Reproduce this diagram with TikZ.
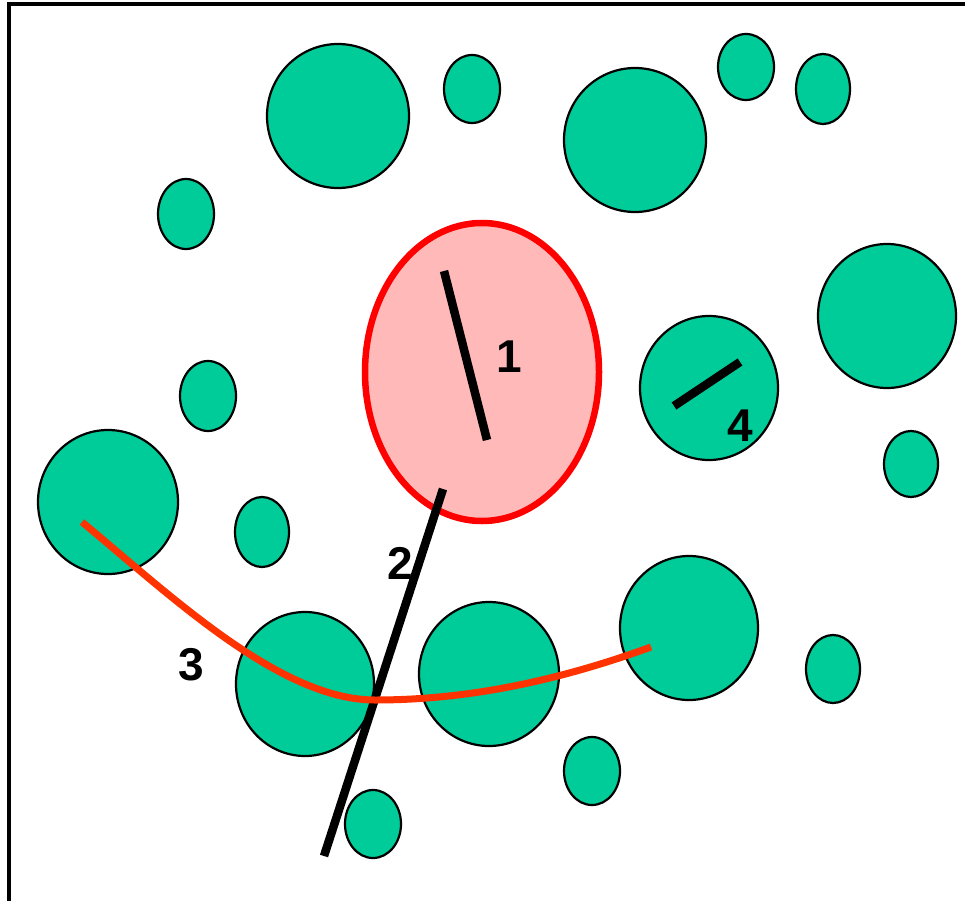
\documentclass[tikz,border=0pt]{standalone}
\usepackage{fontspec}
\setmainfont{Liberation Sans}
\definecolor{grain}{RGB}{0,204,153}
\definecolor{pinkfill}{RGB}{255,185,185}
\definecolor{pathred}{RGB}{255,51,0}
\begin{document}
\begin{tikzpicture}[x=1pt,y=-1pt,
  grainshape/.style={draw=black,line width=2.2pt,fill=grain},
  blackline/.style={draw=black,line width=8.5pt},
  lbl/.style={font=\fontsize{46}{46}\selectfont\bfseries,inner sep=0pt}]
\useasboundingbox (0,0) rectangle (965,901);
% border
\draw[line width=4pt] (9,901) -- (9,4) -- (965,4);
% grains
\foreach \cx/\cy/\rx/\ry in {
 338/116/71/72, 472/89/28/34, 635/140/71/72, 746/67/28/33, 823/89/27/35,
 186/214/28/35, 887/316/69/72, 709/388/69/72, 208/396/28/35, 911/464/27/33,
 108/502/70/72, 262/532/27/35, 305/684/69/72, 489/674/70/72, 689/628/69/72,
 833/669/27/34, 592/771/28/34, 373/824/28/34}
 \path[grainshape] (\cx,\cy) ellipse [x radius=\rx, y radius=\ry];
% red grain
\path[draw=red,line width=6.5pt,fill=pinkfill] (482,372) ellipse [x radius=117, y radius=149];
% lines
\draw[blackline] (444,271) -- (487,440);
\draw[blackline] (443,489) -- (324,856);
\draw[blackline] (674,406) -- (740,362);
\draw[pathred,line width=7pt] (82,522) .. controls (170,595) and (280,700) .. (375,700)
   .. controls (470,700) and (560,680) .. (651,647);
% labels
\node[lbl] (l1) at (509,357) {1};
\node[lbl] (l2) at (400,563) {2};
\node[lbl] (l3) at (191,665) {3};
\node[lbl] (l4) at (740,426) {4};
\end{tikzpicture}
\end{document}
